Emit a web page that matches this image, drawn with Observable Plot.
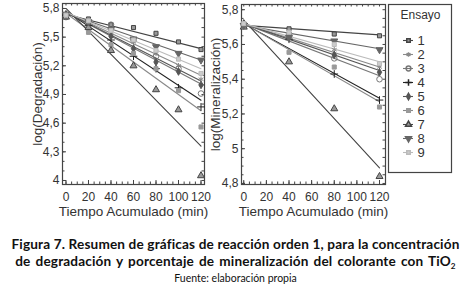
<!DOCTYPE html>
<html><head><meta charset="utf-8">
<script src="https://cdn.jsdelivr.net/npm/d3@7"></script>
<script src="https://cdn.jsdelivr.net/npm/@observablehq/plot@0.6"></script>
<style>
body{margin:0;background:#fff;}
#wrap{position:relative;width:471px;height:286px;overflow:hidden;background:#fff;}
.pp{position:absolute;top:0;}
.cap{position:absolute;left:0;width:471px;text-align:center;color:#111;white-space:nowrap;}
.cap.t{font-family:Lato,"Open Sans",sans-serif;font-weight:700;font-size:13.6px;line-height:17px;letter-spacing:0.15px;}
.cap.t2{word-spacing:1.6px;}
.cap.f{font-family:Lato,"Open Sans",sans-serif;font-size:10.5px;line-height:12px;}
sub{font-size:0.6em;vertical-align:-0.35em;line-height:0;}
</style></head><body>
<div id="wrap">
  <div class="pp" id="left" style="left:0px"></div>
  <div class="pp" id="right" style="left:200px"></div>
  <div class="pp" id="legend" style="left:386px"></div>
  <div class="cap t" style="top:236px">Figura 7. Resumen de gráficas de reacción orden 1, para la concentración</div>
  <div class="cap t t2" style="top:253px">de degradación y porcentaje de mineralización del colorante con TiO<sub>2</sub></div>
  <div class="cap f" style="top:272px">Fuente: elaboración propia</div>
</div>
<script>
// ---------- data ----------
const series = ["1","2","3","4","5","6","7","8","9"];
const legendTitle = "Ensayo";

// Degradation panel
const degTimes = [0, 20, 40, 60, 80, 100, 120];
const degPoints = [
  [5.72, 5.69, 5.63, 5.60, 5.54, 5.45, 5.37],
  [5.74, 5.66, 5.55, 5.45, 5.33, 5.20, 5.06],
  [5.71, 5.67, 5.63, 5.47, 5.30, 5.17, 4.91],
  [5.73, 5.62, 5.47, 5.30, 5.17, 4.97, 4.77],
  [5.74, 5.64, 5.51, 5.38, 5.24, 5.14, 5.00],
  [5.72, 5.55, 5.42, 5.33, 5.17, 4.94, 4.56],
  [5.71, 5.60, 5.36, 5.20, 4.95, 4.74, 4.05],
  [5.74, 5.66, 5.58, 5.48, 5.40, 5.33, 5.26],
  [5.73, 5.67, 5.57, 5.47, 5.36, 5.27, 5.12]
];
const degLineStart = [5.74, 5.76, 5.76, 5.77, 5.76, 5.75, 5.80, 5.75, 5.76];
const degLineEnd   = [5.38, 5.10, 5.01, 4.84, 5.04, 4.73, 4.36, 5.26, 5.17];
const degYTicks = [4, 4.3, 4.6, 4.9, 5.2, 5.5, 5.8];

// Mineralization panel
const minTimes = [0, 40, 80, 120];
const minPoints = [
  [5.71, 5.69, 5.66, 5.65],
  [5.72, 5.66, 5.57, 5.47],
  [5.71, 5.66, 5.52, 5.40],
  [5.72, 5.63, 5.43, 5.28],
  [5.72, 5.65, 5.54, 5.44],
  [5.71, 5.555, 5.47, 5.24],
  [5.70, 5.50, 5.23, 4.84],
  [5.71, 5.64, 5.62, 5.57],
  [5.72, 5.67, 5.60, 5.49]
];
const minLineStart = [5.71, 5.72, 5.72, 5.72, 5.72, 5.72, 5.74, 5.71, 5.72];
const minLineEnd   = [5.655, 5.47, 5.42, 5.29, 5.45, 5.27, 4.89, 5.575, 5.50];
const minYTicks = [4.8, 5, 5.2, 5.4, 5.6, 5.8];

const xTicks = [0, 20, 40, 60, 80, 100, 120];
const xTitle = "Tiempo Acumulado (min)";
const degTitle = "log(Degradación)";
const minTitle = "log(Mineralización)";

// ---------- styles ----------
const lineColors = ["#444","#8a8a8a","#777","#222","#555","#888","#444","#666","#bbb"];
const dotStroke  = ["#444","#8a8a8a","#777","#222","#555","#999","#444","#666","#bbb"];
const dotFill    = ["#999","none","none","none","#555","#999","#999","#666","#ccc"];
const dotSymbol  = ["square","asterisk","circle","plus","diamond","square","triangle","triangle","square"];
const dotRotate  = [0,0,0,0,0,0,0,180,0];
const dotR       = [2.3,2.6,2.8,2.6,2.3,2.3,2.6,2.6,2.3];

const font = "'Liberation Sans', Arial, Helvetica, sans-serif";
const fmt = d => String(d).replace(".", ",");

function panel({times, points, lineStart, lineEnd, yTicks, yMinor, xDomain, yDomain, width, height, mL, mR, mT, mB, yTitle, yTitleDx}) {
  const innerW = width - mL - mR, innerH = height - mT - mB;
  const marks = [];
  const xMinor = d3.range(0, 121, 5);
  marks.push(Plot.frame({stroke: "#444", strokeWidth: 1.2}));
  // inward ticks on all four sides
  marks.push(Plot.tickX(xMinor, {x: d => d, insetTop: innerH - 2.5, stroke: "#444"}));
  marks.push(Plot.tickX(xMinor, {x: d => d, insetBottom: innerH - 2.5, stroke: "#444"}));
  marks.push(Plot.tickY(yMinor, {y: d => d, insetRight: innerW - 2.5, stroke: "#444"}));
  marks.push(Plot.tickY(yMinor, {y: d => d, insetLeft: innerW - 2.5, stroke: "#444"}));
  marks.push(Plot.tickX(xTicks, {x: d => d, insetTop: innerH - 4, stroke: "#444"}));
  marks.push(Plot.tickY(yTicks, {y: d => d, insetRight: innerW - 4, stroke: "#444"}));
  marks.push(Plot.axisX(xTicks, {anchor: "bottom", tickSize: 0, tickPadding: 8, label: null, fontSize: 12, fill: "#333"}));
  marks.push(Plot.axisY(yTicks, {anchor: "left", tickSize: 0, tickPadding: 3, label: null, tickFormat: fmt, fontSize: 12, fill: "#333"}));
  series.forEach((s, i) => {
    const ln = [{t: 0, v: lineStart[i]}, {t: 120, v: lineEnd[i]}];
    marks.push(Plot.line(ln, {x: "t", y: "v", stroke: lineColors[i], strokeWidth: 1.1}));
  });
  series.forEach((s, i) => {
    const pts = times.map((t, j) => ({t, v: points[i][j]}));
    marks.push(Plot.dot(pts, {x: "t", y: "v", symbol: dotSymbol[i], stroke: dotStroke[i], fill: dotFill[i], r: dotR[i], rotate: dotRotate[i], strokeWidth: 1}));
  });
  marks.push(Plot.text([xTitle], {frameAnchor: "bottom", dy: 27, lineAnchor: "middle", textAnchor: "middle", text: d => d, fontSize: 13.5, fill: "#333", fontFamily: font}));
  marks.push(Plot.text([yTitle], {frameAnchor: "left", dx: yTitleDx, rotate: -90, lineAnchor: "middle", textAnchor: "middle", text: d => d, fontSize: 13.5, fill: "#333", fontFamily: font}));
  return Plot.plot({
    width, height, marginLeft: mL, marginRight: mR, marginTop: mT, marginBottom: mB,
    x: {domain: xDomain},
    y: {domain: yDomain},
    style: {fontFamily: font, fontSize: "12px", background: "transparent", color: "#333", overflow: "visible"},
    marks
  });
}

document.getElementById("left").append(panel({
  times: degTimes, points: degPoints, lineStart: degLineStart, lineEnd: degLineEnd,
  yTicks: degYTicks, yMinor: d3.range(40, 59, 1).map(d => d / 10),
  xDomain: [-3.1, 123.1], yDomain: [3.958, 5.852],
  width: 212, height: 222, mL: 62, mR: 8, mT: 3, mB: 38,
  yTitle: degTitle, yTitleDx: -25
}));

document.getElementById("right").append(panel({
  times: minTimes, points: minPoints, lineStart: minLineStart, lineEnd: minLineEnd,
  yTicks: minYTicks, yMinor: d3.range(96, 117, 1).map(d => d / 20),
  xDomain: [-2.0, 125.3], yDomain: [4.794, 5.83],
  width: 190, height: 222, mL: 41, mR: 5, mT: 4, mB: 38,
  yTitle: minTitle, yTitleDx: -26
}));

// legend
const legRows = series.map((s, i) => ({s, i}));
const legend = Plot.plot({
  width: 70, height: 176, marginLeft: 2, marginRight: 5, marginTop: 4, marginBottom: 4,
  x: {domain: [0, 63], range: [2, 65], axis: null},
  y: {type: "point", domain: series, range: [29, 162], axis: null},
  style: {fontFamily: font, fontSize: "12px", background: "transparent", overflow: "visible"},
  marks: [
    Plot.frame({stroke: "#444", strokeWidth: 1.2}),
    Plot.text([legendTitle], {x: 32, frameAnchor: "top", dy: 11, lineAnchor: "middle", text: d => d, fontSize: 12, fill: "#333"}),
    ...legRows.map(({s, i}) => Plot.ruleY([s], {y: d => d, x1: 15, x2: 25, stroke: lineColors[i], strokeWidth: 1.1})),
    ...legRows.map(({s, i}) => Plot.dot([s], {x: 20, y: d => d, symbol: dotSymbol[i], stroke: dotStroke[i], fill: dotFill[i], r: dotR[i] * 0.85, rotate: dotRotate[i]})),
    ...legRows.map(({s, i}) => Plot.text([s], {x: 29, y: d => d, text: d => d, textAnchor: "start", fontSize: 13, fill: "#333"}))
  ]
});
document.getElementById("legend").append(legend);
</script>
</body></html>
